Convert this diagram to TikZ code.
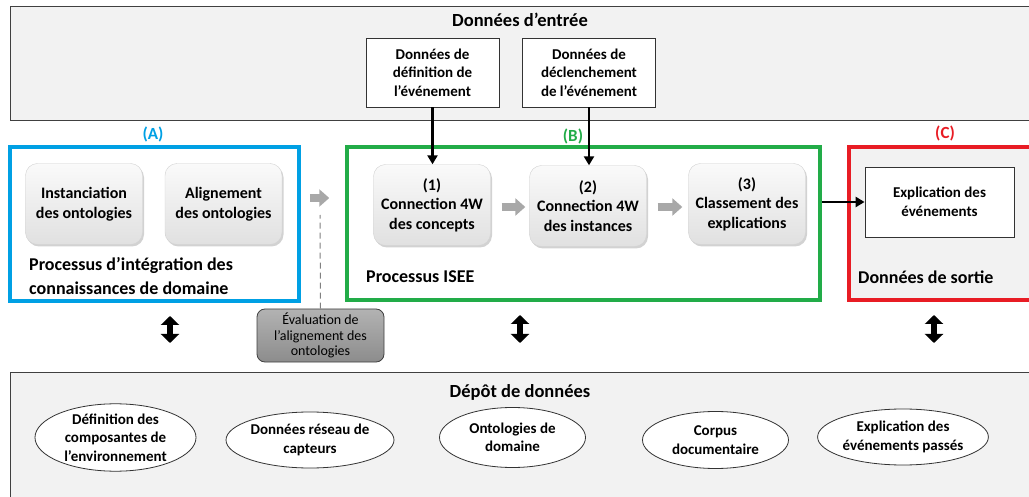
\documentclass[tikz,border=0pt]{standalone}
\usepackage{fontspec}
\setmainfont{Carlito}
\usetikzlibrary{shapes.geometric,arrows.meta,shadows}

\definecolor{panelgray}{RGB}{242,242,242}
\definecolor{bluA}{RGB}{0,160,228}
\definecolor{greenB}{RGB}{34,172,72}
\definecolor{redC}{RGB}{232,28,36}
\definecolor{arrowgray}{RGB}{168,168,168}

\newcommand\boxfont{\fontsize{15}{18.5}\selectfont\bfseries}
\newcommand\procfont{\fontsize{16}{19.5}\selectfont\bfseries}
\newcommand\lblfont{\fontsize{18}{24}\selectfont\bfseries}

\begin{document}
\begin{tikzpicture}[x=1pt, y=-1pt,
    panel/.style={rectangle, draw=black!75, fill=panelgray, line width=1pt, inner sep=0pt},
    frame/.style={rectangle, line width=3.5pt, inner sep=0pt},
    databox/.style={rectangle, draw=black!80, fill=white, line width=0.8pt, align=center, font=\boxfont, inner sep=2pt},
    procbox/.style={rectangle, rounded corners=12pt, draw=gray!35, top color=gray!4, bottom color=gray!24, drop shadow={opacity=0.35, shadow xshift=1.5pt, shadow yshift=-2pt}, minimum width=117pt, minimum height=81pt, align=center, font=\procfont, inner sep=0pt},
    repo/.style={ellipse, draw=black!80, fill=white, line width=0.8pt, align=center, font=\boxfont, inner sep=0pt},
    lbl/.style={anchor=west, align=left, font=\lblfont, inner sep=0pt},
    tag/.style={font=\fontsize{17}{19}\selectfont\bfseries},
    arrow/.style={-{Triangle[width=10pt,length=9pt]}, line width=2.5pt},
    fatarrow/.style={-{Triangle[width=17pt,length=10pt]}, line width=8pt, draw=arrowgray},
    dblarrow/.style={{Triangle[width=18pt,length=9pt]}-{Triangle[width=18pt,length=9pt]}, line width=6pt}
]
\useasboundingbox (0,0) rectangle (1029,497);

% Background boxes
\node[panel, minimum width=1025pt, minimum height=114pt, anchor=north west] (entree) at (10,6) {};
\node[panel, minimum width=1025pt, minimum height=130pt, anchor=north west] (depot) at (10,372) {};
\node[font=\fontsize{18.5}{20}\selectfont\bfseries] (entreeT) at (520,20) {Données d’entrée};
\node[font=\fontsize{18.5}{20}\selectfont\bfseries] (depotT) at (520,392) {Dépôt de données};

% Input data
\node[databox, minimum width=133pt, minimum height=69pt] (defin) at (432.5,72.5) {Données de\\définition de\\l'événement};
\node[databox, minimum width=133pt, minimum height=69pt] (decl) at (589,72.5) {Données de\\déclenchement\\de l'événement};

% (A) domain knowledge
\node[frame, draw=bluA, fill=white, minimum width=289pt, minimum height=154pt] (boxA) at (154.5,224) {};
\node[tag, text=bluA] (tagA) at (153,134) {(A)};
\node[procbox] (inst) at (84,204) {Instanciation\\des ontologies};
\node[procbox] (alig) at (223.5,204) {Alignement\\des ontologies};
\node[lbl] (lblA) at (29,276) {Processus d’intégration des\\connaissances de domaine};

% (B) ISEE
\node[frame, draw=greenB, fill=white, minimum width=473pt, minimum height=153pt] (boxB) at (583.5,223.5) {};
\node[tag, text=greenB] (tagB) at (573,136) {(B)};
\node[procbox] (c1) at (432,205) {(1)\\Connection 4W\\des concepts};
\node[procbox] (c2) at (588,206) {(2)\\Connection 4W\\des instances};
\node[procbox] (c3) at (747,204) {(3)\\Classement des\\explications};
\node[lbl] (lblB) at (366,277) {Processus ISEE};

% (C) output
\node[frame, draw=redC, fill=panelgray, minimum width=186pt, minimum height=153pt] (boxC) at (942,223.5) {};
\node[tag, text=redC] (tagC) at (945,133) {(C)};
\node[databox, minimum width=149pt, minimum height=70pt] (expl) at (939.5,202) {Explication des\\événements};
\node[lbl] (lblC) at (858,277) {Données de sortie};

% Evaluation
\node[rectangle, rounded corners=8pt, draw=black!75, top color=gray!60, bottom color=gray!90, line width=0.8pt, minimum width=127pt, minimum height=53pt, align=center, font=\fontsize{14}{15.5}\selectfont, inner sep=0pt] (eval) at (320.5,335.5) {Évaluation de\\l’alignement des\\ontologies};

% Repository
\node[repo, minimum width=161pt, minimum height=59pt] (r1) at (115.5,437.5) {Définition des\\composantes de\\l’environnement};
\node[repo, minimum width=148pt, minimum height=56pt] (r2) at (310,440) {Données réseau de\\capteurs};
\node[repo, minimum width=146pt, minimum height=60pt] (r3) at (512.5,437.5) {Ontologies de\\domaine};
\node[repo, minimum width=146pt, minimum height=57pt] (r4) at (715.5,440) {Corpus\\documentaire};
\node[repo, minimum width=150pt, minimum height=56pt] (r5) at (903,437) {Explication des\\événements passés};

% Arrows
\coordinate (midAB) at (320,198);
\draw[arrow] (defin.south) -- (defin.south |- c1.north);
\draw[arrow] (decl.south) -- (decl.south |- c2.north);
\draw[arrow] (boxB.east |- expl.west) -- (expl.west);
\draw[fatarrow, shorten <=9pt, shorten >=16pt] (boxA.east |- midAB) -- (boxB.west |- midAB);
\draw[fatarrow, shorten <=11pt, shorten >=4pt] ([yshift=-2pt]c1.east) -- ([yshift=-2pt]c1.east -| c2.west);
\draw[fatarrow, shorten <=11pt, shorten >=6pt] ([yshift=-1pt]c2.east) -- ([yshift=-1pt]c2.east -| c3.west);
\draw[dashed, line width=1pt, draw=gray, dash pattern=on 6pt off 4pt] (eval.north) -- ([yshift=-17pt]midAB);

% Double arrows
\coordinate (dA) at (170,301);
\coordinate (dB) at (520,300);
\coordinate (dC) at (934,300);
\foreach \d in {dA,dB,dC}
  \draw[dblarrow, shorten <=15pt, shorten >=29pt] (\d) -- (\d |- depot.north);

\end{tikzpicture}
\end{document}
